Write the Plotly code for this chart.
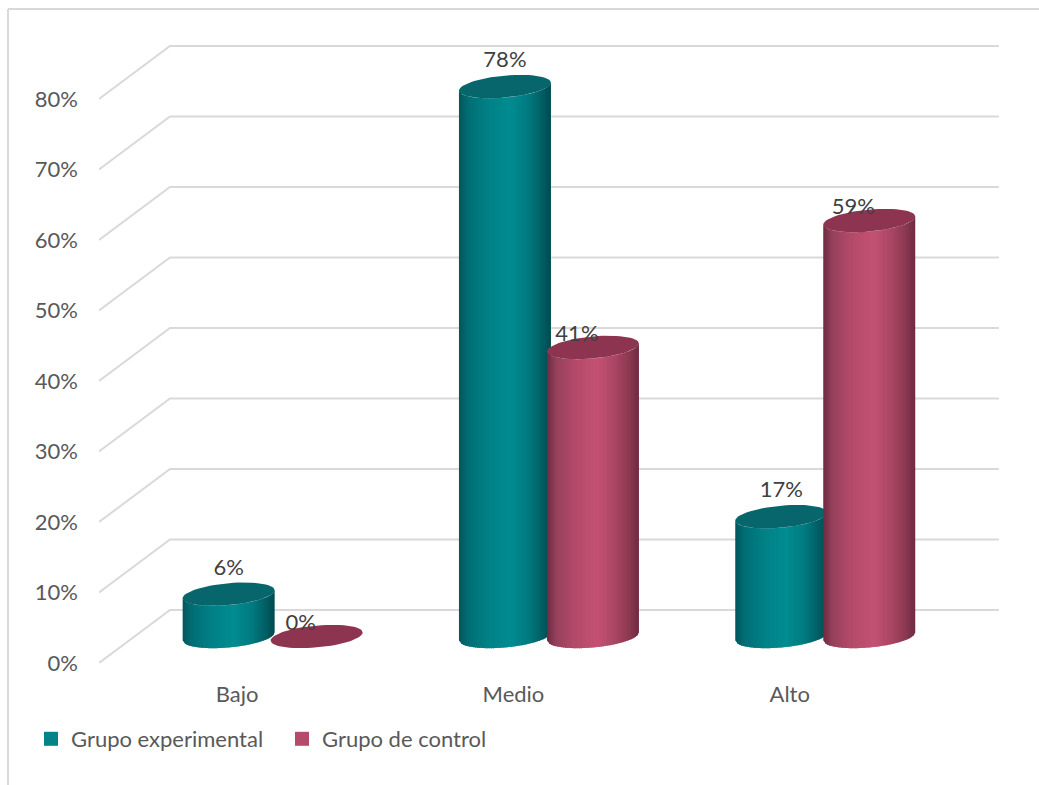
import math
import plotly.graph_objects as go

# Chart data
categories = ["Bajo", "Medio", "Alto"]
grupo_experimental = [6, 78, 17]
grupo_control = [0, 41, 59]
y_ticks = [0, 10, 20, 30, 40, 50, 60, 70, 80]
y_tick_labels = ["0%", "10%", "20%", "30%", "40%", "50%", "60%", "70%", "80%"]

# Page and plot geometry (pixels)
WIDTH, HEIGHT = 1039, 785
M_L, M_R, M_T, M_B = 99, 40, 30, 122
PX_PER_CAT = 276.3
PX_PER_PCT = 7.05
PLOT_W = WIDTH - M_L - M_R
PLOT_H = HEIGHT - M_T - M_B
X_RANGE = [-0.5, -0.5 + PLOT_W / PX_PER_CAT]
Y_RANGE = [0, PLOT_H / PX_PER_PCT]

# Oblique projection of the chart's depth axis
DEPTH_X = 71 / PX_PER_CAT
DEPTH_Y = 53 / PX_PER_PCT

# Cylinder proportions (pixels)
RADIUS_X = 46 / PX_PER_CAT
RADIUS_Y = 11 / PX_PER_PCT
SKEW_Y = 4 / PX_PER_PCT
SIDE_OFFSET = 44 / PX_PER_CAT
STRIPS = 46

GRID = "#D9D9D9"
TEAL_STOPS = [(0, "#00565C"), (.1, "#006E75"), (.3, "#008085"), (.55, "#008C91"),
              (.75, "#007B80"), (.9, "#005F64"), (1, "#004A4F")]
ROSE_STOPS = [(0, "#6E2A40"), (.1, "#96415C"), (.3, "#B34A69"), (.55, "#C45173"),
              (.75, "#A84563"), (.9, "#8A3850"), (1, "#6E2A42")]
TEAL_CAP, ROSE_CAP = "#06666C", "#8D3550"
TEAL_KEY, ROSE_KEY = "#00848A", "#B54A6A"
FONT = "Lato"
FONT_SIZE = 22


def shade(stops, pos):
    """Interpolate a hex colour along a list of gradient stops."""
    for (p0, c0), (p1, c1) in zip(stops, stops[1:]):
        if pos <= p1:
            f = (pos - p0) / (p1 - p0)
            a = [int(c0[i:i + 2], 16) for i in (1, 3, 5)]
            b = [int(c1[i:i + 2], 16) for i in (1, 3, 5)]
            return "#%02x%02x%02x" % tuple(round(u + (v - u) * f) for u, v in zip(a, b))
    return stops[-1][1]


def front_edge(s):
    """Vertical offset, in axis units, of the ellipse's front arc at s in [-1, 1]."""
    return -RADIUS_Y * math.sqrt(max(0.0, 1 - s * s)) + SKEW_Y * s


fig = go.Figure()

# Floor-to-wall gridlines: an oblique stub from the front, then along the back wall
for tick in y_ticks:
    back_left = X_RANGE[0] + DEPTH_X
    fig.add_trace(go.Scatter(
        x=[X_RANGE[0], back_left, back_left + len(categories)],
        y=[tick, tick + DEPTH_Y, tick + DEPTH_Y],
        mode="lines", line=dict(color=GRID, width=2),
        cliponaxis=False, showlegend=False, hoverinfo="skip"))


def add_cylinders(values, side, stops, cap_color):
    """Draw one series of cylinders: shaded body strips, then the elliptical caps."""
    centres = [i + DEPTH_X / 2 + side * SIDE_OFFSET for i in range(len(values))]
    base = DEPTH_Y / 2
    for k in range(STRIPS):
        xs, ys = [], []
        s0 = -1 + 2 * k / STRIPS
        s1 = -1 + 2 * (k + 1) / STRIPS
        s1_ext = min(1.0, s1 + 0.02)
        for cx, val in zip(centres, values):
            x0, x1 = cx + RADIUS_X * s0, cx + RADIUS_X * s1_ext
            top = base + val
            xs += [x0, x1, x1, x0, x0, None]
            ys += [base + front_edge(s0), base + front_edge(s1_ext),
                   top + front_edge(s1_ext), top + front_edge(s0),
                   base + front_edge(s0), None]
        fig.add_trace(go.Scatter(
            x=xs, y=ys, mode="lines", fill="toself",
            fillcolor=shade(stops, (k + 0.5) / STRIPS),
            line=dict(width=0), showlegend=False, hoverinfo="skip"))
    xs, ys = [], []
    for cx, val in zip(centres, values):
        for d in range(0, 361, 6):
            t = math.radians(d)
            xs.append(cx + RADIUS_X * math.cos(t))
            ys.append(base + val + RADIUS_Y * math.sin(t) + SKEW_Y * math.cos(t))
        xs.append(None)
        ys.append(None)
    fig.add_trace(go.Scatter(
        x=xs, y=ys, mode="lines", fill="toself", fillcolor=cap_color,
        line=dict(width=0), showlegend=False, hoverinfo="skip"))
    return centres


centres_exp = add_cylinders(grupo_experimental, -1, TEAL_STOPS, TEAL_CAP)
centres_ctl = add_cylinders(grupo_control, 1, ROSE_STOPS, ROSE_CAP)

# Value labels sit above each cap; the control series is nudged left and lower
fig.add_trace(go.Scatter(
    x=centres_exp,
    y=[v + DEPTH_Y / 2 + 25 / PX_PER_PCT for v in grupo_experimental],
    text=[f"{v}%" for v in grupo_experimental],
    mode="text", textposition="middle center",
    textfont=dict(family=FONT, size=FONT_SIZE, color="#404040"),
    showlegend=False, hoverinfo="skip"))
fig.add_trace(go.Scatter(
    x=[c - 16 / PX_PER_CAT for c in centres_ctl],
    y=[v + DEPTH_Y / 2 + 12 / PX_PER_PCT for v in grupo_control],
    text=[f"{v}%" for v in grupo_control],
    mode="text", textposition="middle center",
    textfont=dict(family=FONT, size=FONT_SIZE, color="#404040"),
    showlegend=False, hoverinfo="skip"))

# Legend entries
for name, colour in (("Grupo experimental", TEAL_KEY), ("Grupo de control", ROSE_KEY)):
    fig.add_trace(go.Scatter(
        x=[None], y=[None], mode="markers", name=name,
        marker=dict(symbol="square", size=14, color=colour)))


def paper_x(px):
    return (px - M_L) / PLOT_W


def paper_y(px):
    return (HEIGHT - M_B - px) / PLOT_H


# Chart frame: left and top edges only
frame = dict(type="line", xref="paper", yref="paper", line=dict(color=GRID, width=2), layer="below")
shapes = [
    dict(frame, x0=paper_x(8), x1=paper_x(8), y0=paper_y(9), y1=paper_y(785)),
    dict(frame, x0=paper_x(8), x1=paper_x(1039), y0=paper_y(9), y1=paper_y(9)),
]

fig.update_layout(
    width=WIDTH, height=HEIGHT, autosize=False,
    margin=dict(l=M_L, r=M_R, t=M_T, b=M_B, pad=0),
    paper_bgcolor="white", plot_bgcolor="white",
    font=dict(family=FONT, size=FONT_SIZE, color="#595959"),
    shapes=shapes,
    xaxis=dict(range=X_RANGE, tickvals=list(range(len(categories))), ticktext=categories,
               showgrid=False, zeroline=False, showline=False, ticks="",
               ticklabelstandoff=16, tickfont=dict(family=FONT, size=FONT_SIZE, color="#595959")),
    yaxis=dict(range=Y_RANGE, tickvals=y_ticks, ticktext=y_tick_labels,
               showgrid=False, zeroline=False, showline=False, ticks="",
               ticklabelstandoff=20, tickfont=dict(family=FONT, size=FONT_SIZE, color="#595959")),
    legend=dict(orientation="h", xref="container", yref="container",
                x=31 / WIDTH, y=1 - 718 / HEIGHT, xanchor="left", yanchor="top",
                entrywidth=206, entrywidthmode="pixels", itemwidth=30,
                font=dict(family=FONT, size=FONT_SIZE, color="#595959"),
                bgcolor="rgba(0,0,0,0)"),
)

fig.write_html("out.html", config=dict(displayModeBar=False))
